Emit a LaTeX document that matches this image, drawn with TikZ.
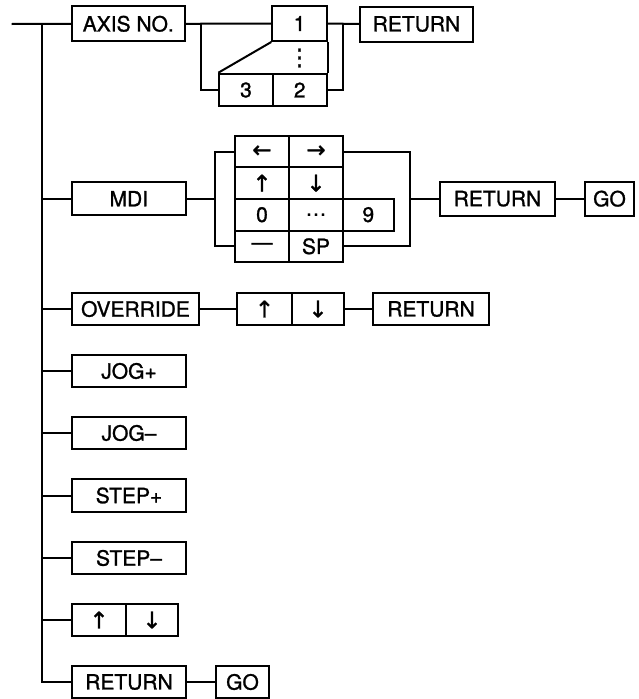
\documentclass[tikz,border=0pt]{standalone}
\usepackage{fontspec}
\setmainfont{TeX Gyre Heros}[FakeBold=1.2]
\newfontfamily\symfont{DejaVu Sans}[FakeBold=1]
\begin{document}
\begin{tikzpicture}[x=1pt,y=-1pt,line width=2pt,
  key/.style={draw, rectangle, inner sep=0pt, minimum height=32.5pt,
    font=\fontsize{21}{24}\selectfont},
  tall/.style={minimum height=35pt},
  sym/.style={font=\fontsize{23}{24}\symfont}]
\useasboundingbox (0,0) rectangle (639,699);

% ---------- row 1: AXIS NO.
\coordinate (start) at (11.7,24);
\coordinate (ttop) at (41.7,24);
\node[key,tall,minimum width=113pt] (axis) at (128.3,23.8) {AXIS NO.};
\node[key,tall,minimum width=54.4pt] (b1) at (299.5,23.5) {1};
\node[key,minimum width=53.4pt] (b3) at (246,90) {3};
\node[key,minimum width=54pt] (b2) at (299.7,90) {2};
\node[sym,inner sep=0pt] (bdots) at (299.5,58) {⋮};
\node[key,tall,minimum width=113pt] (ret0) at (416.5,24) {RETURN};
\coordinate (ja) at (200.7,24);
\coordinate (jb) at (343.3,24);
\draw (start) -- (axis.west);
\draw (axis.east) -- (b1.west);
\draw (ja) |- (b3.west);
\draw (b1.south west) -- (b3.north west);
\draw (b1.south east) -- (b2.north east);
\draw (b1.east) -- (ret0.west);
\draw (b2.east) -| (jb);

% ---------- row 2: MDI
\node[key,minimum width=114pt,minimum height=33pt] (mdi) at (128.8,198.7) {MDI};
\node[key,minimum width=54pt,minimum height=31.6pt,sym] (kl) at (262,151.5) {←};
\node[key,minimum width=54pt,minimum height=31.6pt,sym] (kr) at (316,151.5) {→};
\node[key,minimum width=54pt,minimum height=31.6pt,sym] (ku) at (262,183.1) {↑};
\node[key,minimum width=54pt,minimum height=31.6pt,sym] (kd) at (316,183.1) {↓};
\node[key,minimum width=54pt,minimum height=31.6pt] (k0) at (262,214.7) {0};
\node[key,minimum width=54pt,minimum height=31.6pt] (kdots) at (316,214.7) {…};
\node[key,minimum width=51.3pt,minimum height=31.6pt] (k9) at (368.3,214.7) {9};
\node[key,minimum width=54pt,minimum height=31.6pt] (kdash) at (262,246.3) {—};
\node[key,minimum width=54pt,minimum height=31.6pt] (ksp) at (316,246.3) {SP};
\node[key,minimum width=115pt,minimum height=34pt] (ret1) at (497.5,198.7) {RETURN};
\node[key,minimum width=49pt,minimum height=34pt] (go1) at (609.5,198.7) {GO};
\coordinate (jc) at (215,198.7);
\coordinate (jd) at (410,198.7);
\draw (ttop |- mdi) -- (mdi.west);
\draw (mdi.east) -- (jc);
\draw (kl.west) -| (jc) |- (kdash.west);
\draw (kr.east) -| (jd) |- (ksp.east);
\draw (jd) -- (ret1.west);
\draw (ret1.east) -- (go1.west);

% ---------- row 3: OVERRIDE
\node[key,minimum width=127pt] (ovr) at (135.5,309) {OVERRIDE};
\node[key,minimum width=55pt,sym] (ou) at (264.5,309) {↑};
\node[key,minimum width=52pt,sym] (od) at (318,309) {↓};
\node[key,minimum width=116pt] (ret2) at (431,309) {RETURN};
\draw (ttop |- ovr) -- (ovr.west);
\draw (ovr.east) -- (ou.west);
\draw (od.east) -- (ret2.west);

% ---------- single keys
\node[key,minimum width=114pt] (jogp) at (129,371) {JOG+};
\node[key,minimum width=114pt] (jogm) at (129,433) {JOG–};
\node[key,minimum width=114pt] (stepp) at (129,495.5) {STEP+};
\node[key,minimum width=114pt] (stepm) at (129,558) {STEP–};
\node[key,minimum width=54pt,sym] (au) at (99,620) {↑};
\node[key,minimum width=52pt,sym] (ad) at (152,620) {↓};
\node[key,minimum width=114pt] (ret3) at (129,682) {RETURN};
\node[key,minimum width=53pt] (go3) at (242.5,682) {GO};
\draw (ttop |- jogp) -- (jogp.west);
\draw (ttop |- jogm) -- (jogm.west);
\draw (ttop |- stepp) -- (stepp.west);
\draw (ttop |- stepm) -- (stepm.west);
\draw (ttop |- au) -- (au.west);
\draw (ttop) |- (ret3.west);
\draw (ret3.east) -- (go3.west);
\end{tikzpicture}
\end{document}
